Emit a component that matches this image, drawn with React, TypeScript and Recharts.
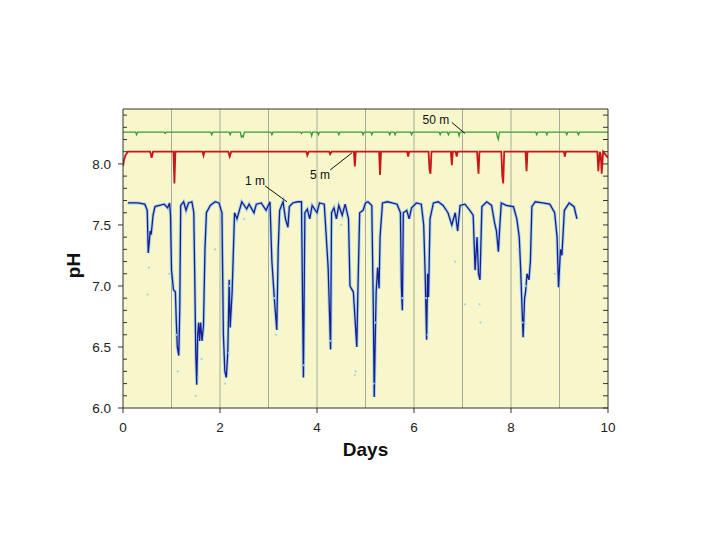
import * as React from "react";
import {
  ComposedChart,
  Line,
  Scatter,
  XAxis,
  YAxis,
  CartesianGrid,
  ReferenceLine,
  ReferenceDot,
} from "recharts";

// pH readings at three depths, [day, pH]
const depth1m: [number, number][] = [
  [0.1, 7.68], [0.3, 7.68], [0.45, 7.67], [0.5, 7.62], [0.52, 7.27], [0.54, 7.35],
  [0.56, 7.45], [0.58, 7.42], [0.62, 7.58], [0.66, 7.65], [0.75, 7.66], [0.85, 7.67],
  [0.92, 7.64], [0.96, 7.68], [0.98, 7.58], [1.0, 7.13], [1.04, 6.97], [1.08, 6.95],
  [1.1, 6.7], [1.12, 6.5], [1.15, 6.43], [1.17, 6.8], [1.19, 7.66], [1.25, 7.69],
  [1.3, 7.62], [1.35, 7.68], [1.42, 7.69], [1.46, 7.6], [1.48, 7.05], [1.5, 6.45],
  [1.52, 6.19], [1.54, 6.6], [1.56, 6.7], [1.58, 6.55], [1.6, 6.7], [1.63, 6.55],
  [1.66, 6.68], [1.69, 7.3], [1.72, 7.6], [1.8, 7.66], [1.9, 7.69], [1.98, 7.68],
  [2.04, 7.6], [2.07, 6.6], [2.1, 6.3], [2.13, 6.25], [2.16, 6.45], [2.19, 7.05],
  [2.21, 6.66], [2.25, 6.95], [2.3, 7.6], [2.35, 7.55], [2.4, 7.62], [2.45, 7.69],
  [2.55, 7.63], [2.6, 7.67], [2.7, 7.6], [2.75, 7.67], [2.85, 7.68], [2.95, 7.62],
  [3.03, 7.69], [3.07, 7.2], [3.12, 6.9], [3.17, 6.64], [3.2, 7.3], [3.23, 7.62],
  [3.3, 7.69], [3.35, 7.55], [3.4, 7.48], [3.43, 7.65], [3.5, 7.68], [3.6, 7.69],
  [3.68, 7.69], [3.72, 6.25], [3.75, 7.6], [3.8, 7.63], [3.85, 7.55], [3.9, 7.66],
  [4.0, 7.6], [4.05, 7.68], [4.15, 7.67], [4.23, 7.15], [4.28, 6.48], [4.3, 7.6],
  [4.35, 7.64], [4.4, 7.55], [4.45, 7.66], [4.52, 7.58], [4.58, 7.67], [4.65, 7.55],
  [4.68, 7.0], [4.75, 6.95], [4.82, 6.5], [4.84, 6.9], [4.88, 7.6], [4.95, 7.62],
  [5.0, 7.68], [5.05, 7.69], [5.13, 7.66], [5.16, 6.85], [5.18, 6.09], [5.2, 6.55],
  [5.22, 6.95], [5.25, 7.15], [5.28, 6.98], [5.3, 7.4], [5.35, 7.68], [5.45, 7.69],
  [5.55, 7.68], [5.65, 7.67], [5.72, 7.6], [5.74, 7.0], [5.76, 6.8], [5.78, 7.6],
  [5.85, 7.62], [5.9, 7.55], [5.95, 7.64], [6.05, 7.68], [6.15, 7.67], [6.2, 7.5],
  [6.23, 7.1], [6.26, 6.56], [6.28, 7.1], [6.3, 6.91], [6.33, 7.55], [6.4, 7.68],
  [6.5, 7.69], [6.6, 7.66], [6.7, 7.6], [6.78, 7.5], [6.85, 7.6], [6.9, 7.45],
  [6.95, 7.66], [7.05, 7.67], [7.15, 7.62], [7.22, 7.58], [7.26, 7.13], [7.3, 7.4],
  [7.33, 7.1], [7.36, 7.05], [7.4, 7.65], [7.5, 7.69], [7.6, 7.66], [7.66, 7.52],
  [7.7, 7.45], [7.74, 7.28], [7.77, 7.5], [7.8, 7.68], [7.9, 7.66], [8.05, 7.65],
  [8.12, 7.55], [8.17, 7.4], [8.2, 7.13], [8.22, 6.9], [8.25, 6.58], [8.28, 6.9],
  [8.3, 6.95], [8.33, 7.1], [8.37, 7.05], [8.4, 7.2], [8.43, 7.65], [8.5, 7.69],
  [8.65, 7.68], [8.8, 7.67], [8.9, 7.6], [8.95, 7.4], [8.98, 6.99], [9.02, 7.3],
  [9.05, 7.25], [9.1, 7.62], [9.2, 7.68], [9.3, 7.65], [9.33, 7.6], [9.36, 7.55],
];

const raw1m: [number, number][] = [
  [0.51, 6.93], [0.54, 7.15], [0.95, 7.1], [1.1, 6.6], [1.13, 6.3], [1.5, 6.1],
  [1.55, 6.25], [1.62, 6.4], [1.9, 7.3], [2.1, 6.2], [2.18, 6.45], [2.2, 7.0],
  [2.5, 7.55], [3.12, 6.9], [3.15, 6.6], [3.73, 6.35], [4.27, 6.55], [4.5, 7.5],
  [4.78, 6.27], [4.8, 6.3], [5.17, 6.2], [5.2, 6.7], [5.76, 6.9], [6.25, 6.9],
  [6.28, 6.6], [6.85, 7.2], [7.05, 6.85], [7.35, 6.85], [7.37, 6.7], [8.15, 7.3],
  [8.24, 6.7], [8.3, 7.0], [8.9, 7.1],
];

const depth5m: [number, number][] = [
  [0.0, 7.98], [0.02, 8.03], [0.05, 8.07], [0.1, 8.1], [0.3, 8.1], [0.56, 8.1],
  [0.59, 8.05], [0.62, 8.1], [0.9, 8.1], [1.04, 8.1], [1.06, 7.84], [1.08, 8.1],
  [1.4, 8.1], [1.64, 8.1], [1.66, 8.07], [1.68, 8.1], [2.17, 8.1], [2.2, 8.06],
  [2.23, 8.1], [2.6, 8.1], [3.0, 8.1], [3.4, 8.1], [3.78, 8.1], [3.8, 8.07],
  [3.83, 8.1], [4.25, 8.1], [4.27, 8.08], [4.3, 8.1], [4.6, 8.1], [4.76, 8.1],
  [4.78, 7.98], [4.8, 8.1], [5.1, 8.1], [5.28, 8.1], [5.3, 7.91], [5.32, 8.1],
  [5.6, 8.1], [5.86, 8.1], [5.88, 8.06], [5.9, 8.1], [6.3, 8.1], [6.32, 7.95],
  [6.34, 7.92], [6.36, 8.1], [6.76, 8.1], [6.78, 7.99], [6.8, 8.1], [6.86, 8.1],
  [6.88, 8.06], [6.9, 8.1], [7.3, 8.1], [7.33, 7.92], [7.35, 8.1], [7.8, 8.1],
  [7.82, 7.9], [7.84, 7.84], [7.86, 8.1], [8.3, 8.1], [8.32, 7.94], [8.34, 8.1],
  [8.8, 8.1], [9.09, 8.1], [9.11, 8.06], [9.13, 8.1], [9.5, 8.1], [9.78, 8.1],
  [9.8, 7.94], [9.83, 8.1], [9.85, 8.08], [9.87, 7.92], [9.9, 8.1], [10.0, 8.05],
];

const depth50m: [number, number][] = [
  [0, 8.26], [0.26, 8.26], [0.28, 8.24], [0.3, 8.26], [0.85, 8.26], [0.87, 8.25],
  [0.89, 8.26], [1.81, 8.26], [1.83, 8.24], [1.85, 8.26], [2.19, 8.26], [2.21, 8.24],
  [2.23, 8.26], [2.42, 8.26], [2.44, 8.22], [2.46, 8.23], [2.48, 8.22], [2.5, 8.26],
  [3.05, 8.26], [3.07, 8.24], [3.09, 8.26], [3.66, 8.26], [3.68, 8.25], [3.7, 8.26],
  [3.87, 8.26], [3.89, 8.23], [3.91, 8.26], [4.01, 8.26], [4.03, 8.24], [4.05, 8.26],
  [4.43, 8.26], [4.45, 8.24], [4.47, 8.26], [4.93, 8.26], [4.95, 8.24], [4.97, 8.26],
  [5.11, 8.26], [5.13, 8.24], [5.15, 8.26], [5.48, 8.26], [5.5, 8.24], [5.52, 8.26],
  [5.59, 8.26], [5.61, 8.24], [5.63, 8.26], [5.93, 8.26], [5.95, 8.24], [5.97, 8.26],
  [6.52, 8.26], [6.54, 8.24], [6.56, 8.26], [6.69, 8.26], [6.71, 8.24], [6.73, 8.26],
  [6.91, 8.26], [6.93, 8.23], [6.95, 8.26], [7.7, 8.26], [7.72, 8.22], [7.74, 8.2],
  [7.76, 8.26], [8.51, 8.26], [8.53, 8.24], [8.55, 8.26], [8.72, 8.26], [8.74, 8.24],
  [8.76, 8.26], [9.13, 8.26], [9.15, 8.24], [9.17, 8.26], [9.37, 8.26], [9.39, 8.24],
  [9.41, 8.26], [10, 8.26],
];

const xTicks = [0, 2, 4, 6, 8, 10];
const gridDays = [1, 2, 3, 4, 5, 6, 7, 8, 9];
const yTicks = [
  6.0, 6.1, 6.2, 6.3, 6.4, 6.5, 6.6, 6.7, 6.8, 6.9, 7.0, 7.1, 7.2, 7.3, 7.4,
  7.5, 7.6, 7.7, 7.8, 7.9, 8.0, 8.1, 8.2, 8.3, 8.4,
];

// depth labels with leader lines: [text, textDay, textPh, fromDay, fromPh, toDay, toPh]
const depthLabels: [string, number, number, number, number, number, number][] = [
  ["50 m", 6.45, 8.36, 6.78, 8.34, 7.05, 8.25],
  ["5 m", 4.06, 7.91, 4.27, 7.95, 4.72, 8.09],
  ["1 m", 2.72, 7.86, 2.93, 7.82, 3.38, 7.69],
];

const toRows = (pts: [number, number][]) => pts.map(([d, ph]) => ({ d, ph }));

const FONT = "'Liberation Sans', Arial, sans-serif";
const AXIS = "#333";

const LeftTick = (props: any) => {
  const { x, y, payload } = props;
  const v = payload.value as number;
  const major = Math.abs(v * 2 - Math.round(v * 2)) < 1e-6;
  if (!major) {
    return <line x1={x} x2={x + 4} y1={y} y2={y} stroke={AXIS} />;
  }
  return (
    <g>
      <line x1={x - 5} x2={x} y1={y} y2={y} stroke={AXIS} />
      <text x={x - 12} y={y} dy={5} textAnchor="end" fontSize={13.5} fill="#222" fontFamily={FONT}>
        {v.toFixed(1)}
      </text>
    </g>
  );
};

const RightTick = (props: any) => {
  const { x, y } = props;
  return <line x1={x - 5} x2={x} y1={y} y2={y} stroke={AXIS} />;
};

const App = () => {
  return (
    <div style={{ fontFamily: FONT }}>
      <ComposedChart
        width={704}
        height={524}
        margin={{ top: 101, right: 94, bottom: 94, left: 0 }}
      >
        <CartesianGrid
          horizontal={false}
          verticalValues={gridDays}
          stroke="#aaaa9c"
          fill="#f7f7cb"
        />
        <XAxis
          dataKey="d"
          type="number"
          domain={[0, 10]}
          ticks={xTicks}
          allowDataOverflow
          height={30}
          tickSize={5}
          tickMargin={9}
          stroke={AXIS}
          tick={{ fontSize: 13.5, fill: "#222", fontFamily: FONT }}
          label={{
            value: "Days",
            position: "bottom",
            offset: 5,
            style: { fontSize: 19, fontWeight: 700, fill: "#111", fontFamily: FONT },
          }}
        />
        <YAxis
          dataKey="ph"
          type="number"
          domain={[6, 8.45]}
          ticks={yTicks}
          allowDataOverflow
          width={115}
          tickSize={0}
          tickMargin={0}
          tickLine={false}
          stroke={AXIS}
          interval={0}
          tick={<LeftTick />}
          label={{
            value: "pH",
            angle: -90,
            position: "center",
            dx: 8,
            dy: 7,
            style: { fontSize: 19, fontWeight: 700, fill: "#111", fontFamily: FONT },
          }}
        />
        <YAxis
          yAxisId="right"
          orientation="right"
          type="number"
          domain={[6, 8.45]}
          ticks={yTicks}
          allowDataOverflow
          width={10}
          tickSize={0}
          tickMargin={0}
          tickLine={false}
          interval={0}
          stroke={AXIS}
          tick={<RightTick />}
        />
        <ReferenceLine y={8.45} stroke={AXIS} />
        <Scatter
          data={toRows(raw1m)}
          dataKey="ph"
          isAnimationActive={false}
          shape={(p: any) => <circle cx={p.cx} cy={p.cy} r={1.1} fill="#9fd3ea" />}
        />
        <Line
          data={toRows(depth1m)}
          dataKey="ph"
          type="linear"
          stroke="#8ccbec"
          strokeOpacity={0.75}
          strokeWidth={3.2}
          dot={false}
          isAnimationActive={false}
        />
        <Line
          data={toRows(depth1m)}
          dataKey="ph"
          type="linear"
          stroke="#1c1c92"
          strokeWidth={1.3}
          dot={false}
          isAnimationActive={false}
        />
        <Line
          data={toRows(depth5m)}
          dataKey="ph"
          type="linear"
          stroke="#c8161a"
          strokeWidth={1.8}
          dot={false}
          isAnimationActive={false}
        />
        <Line
          data={toRows(depth50m)}
          dataKey="ph"
          type="linear"
          stroke="#3a9a3a"
          strokeWidth={1.3}
          dot={false}
          isAnimationActive={false}
        />
        {depthLabels.map(([text, td, tp, fd, fp, ed, ep]) => (
          <ReferenceLine
            key={"l" + text}
            segment={[
              { x: fd, y: fp },
              { x: ed, y: ep },
            ]}
            stroke="#111"
          />
        ))}
        {depthLabels.map(([text, td, tp]) => (
          <ReferenceDot
            key={"t" + text}
            x={td}
            y={tp}
            r={0}
            fill="none"
            stroke="none"
            label={{
              value: text,
              position: "center",
              style: { fontSize: 12, fill: "#111", fontFamily: FONT },
            }}
          />
        ))}
      </ComposedChart>
    </div>
  );
};

export default App;
